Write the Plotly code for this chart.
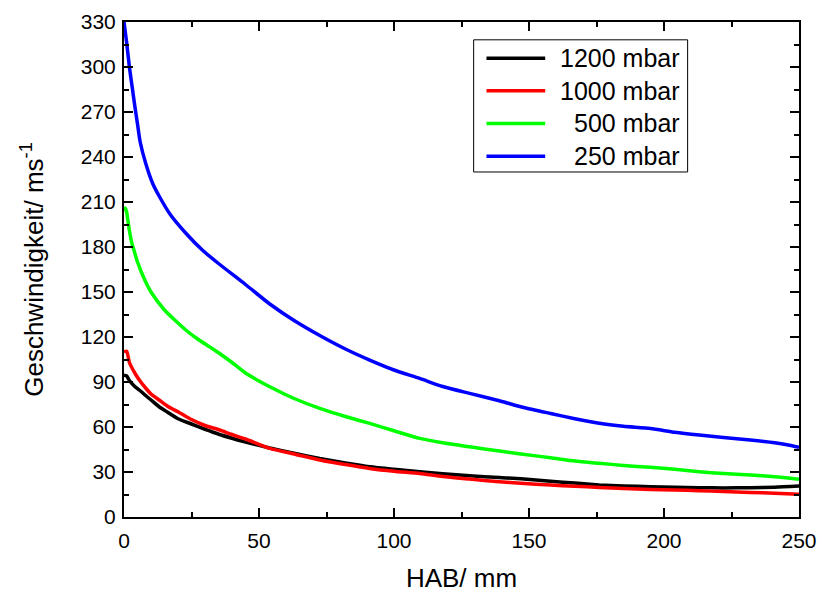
import plotly.graph_objects as go

# ---- data ----
hab_1200 = [0, 1, 2, 4, 5.8, 8, 10, 13, 16, 20, 25, 30, 33, 35.4, 40, 45, 54, 63, 72.5, 82, 91, 100,
            109.5, 118, 128, 139, 147, 158, 167, 176, 185, 195, 204, 213, 222, 232, 241, 250]
v_1200 = [94.5, 94, 91, 87, 84.5, 81, 78, 73.5, 70, 65.5, 62, 58.5, 56.5, 55, 52.5, 50, 46, 42.5, 39, 36,
          33.5, 31.8, 30.2, 28.8, 27.5, 26.3, 25.5, 23.8, 22.6, 21.4, 20.7, 20.2, 19.8, 19.5, 19.4, 19.5,
          19.8, 20.6]

hab_1000 = [0, 1, 2, 4, 5.8, 8, 10, 13, 16, 20.6, 25, 30, 35.4, 40, 45, 54, 63, 72.5, 82, 91, 100,
            109.5, 118, 128, 139, 147, 158, 167, 176, 185, 195, 204, 213, 222, 232, 241, 250]
v_1000 = [110, 110.5, 103, 96, 91, 86, 82, 78, 74, 69.5, 65, 61, 58, 55, 52, 45.7, 42, 38, 35, 32.4,
          30.5, 29, 27, 25.3, 23.5, 22.5, 21.3, 20.5, 19.7, 19, 18.4, 18, 17.5, 17, 16.4, 15.8, 15.1]

hab_500 = [0, 0.5, 1, 2, 3, 4, 5, 7.7, 10, 15, 19, 23, 27, 31.7, 35.4, 40, 45, 54, 63, 72.5, 82, 91,
           100, 109.5, 118, 128, 139, 147, 158, 167, 176, 185, 195, 204, 213, 222, 232, 241, 250]
v_500 = [204, 206, 203, 191, 182, 176, 170, 158, 150, 138, 131, 124.5, 119, 113.4, 109, 103, 96, 86.8,
         79, 72.4, 67, 62.4, 57.5, 52.4, 49.5, 46.8, 44, 42, 39.5, 37.3, 35.8, 34.4, 33.1, 31.8, 30.2,
         29, 28, 26.8, 25.1]

hab_250 = [0, 1, 2, 3, 4, 5, 6, 8, 10.7, 13, 17, 23, 29, 35, 45, 54, 63, 72.5, 82, 91, 100, 109.5,
           118, 128, 139, 148, 158, 167, 176, 185, 195, 204, 213, 222, 232, 241, 246, 250]
v_250 = [330, 316, 300, 287, 274, 262, 250, 236, 222, 214, 202, 189, 178, 169, 155, 142, 131, 121, 112,
         104.6, 98, 92.4, 87, 82.4, 77.5, 73, 69, 65.5, 62.5, 60.5, 59, 56.5, 54.6, 53, 51.3, 49.5, 48,
         46.4]

series_names = ["1200 mbar", "1000 mbar", "500 mbar", "250 mbar"]
series_colors = ["#000000", "#ff0000", "#00ff00", "#0000ff"]
series_x = [hab_1200, hab_1000, hab_500, hab_250]
series_y = [v_1200, v_1000, v_500, v_250]

x_title = "HAB/ mm"
y_title = "Geschwindigkeit/ ms<sup>-1</sup>"

FONT = "Arial, Liberation Sans, sans-serif"

fig = go.Figure()
for xs, ys, name, col in zip(series_x, series_y, series_names, series_colors):
    fig.add_trace(go.Scatter(x=xs, y=ys, mode="lines", name=name,
                             line=dict(color=col, width=3.5, shape="spline", smoothing=0.6),
                             showlegend=False))

# manual legend (right-aligned labels like the reference)
leg_y = [0.927, 0.861, 0.795, 0.729]
shapes = [dict(type="rect", xref="paper", yref="paper", x0=0.518, x1=0.835, y0=0.697, y1=0.964,
               line=dict(color="black", width=1), fillcolor="white", layer="above")]
annotations = []
for name, col, yy in zip(series_names, series_colors, leg_y):
    shapes.append(dict(type="line", xref="paper", yref="paper", x0=0.537, x1=0.624, y0=yy, y1=yy,
                       line=dict(color=col, width=3.5), layer="above"))
    annotations.append(dict(text=name, xref="paper", yref="paper", x=0.826, y=yy,
                            xanchor="right", yanchor="middle", showarrow=False,
                            font=dict(size=25, color="black", family=FONT)))

axis_common = dict(showline=True, linecolor="black", linewidth=2, mirror="ticks",
                   ticks="inside", ticklen=9, tickwidth=2, tickcolor="black",
                   showgrid=False, zeroline=False, automargin=False,
                   tickfont=dict(size=21, color="black", family=FONT))

fig.update_layout(
    width=822, height=593,
    margin=dict(l=124, r=23, t=21.5, b=76),
    paper_bgcolor="white", plot_bgcolor="white",
    font=dict(family=FONT, color="black"),
    shapes=shapes, annotations=annotations,
    xaxis=dict(range=[0, 250], dtick=50, tick0=0, ticklabelstandoff=4,
               minor=dict(dtick=25, ticks="inside", ticklen=5, tickwidth=2, tickcolor="black"),
               title=dict(text=x_title, font=dict(size=26, family=FONT, color="black"), standoff=18),
               **axis_common),
    yaxis=dict(range=[0, 330], dtick=30, tick0=0, ticklabelstandoff=2,
               minor=dict(dtick=15, ticks="inside", ticklen=5, tickwidth=2, tickcolor="black"),
               title=dict(text=y_title, font=dict(size=26, family=FONT, color="black"), standoff=30),
               **axis_common),
)

fig.write_html("out.html")
